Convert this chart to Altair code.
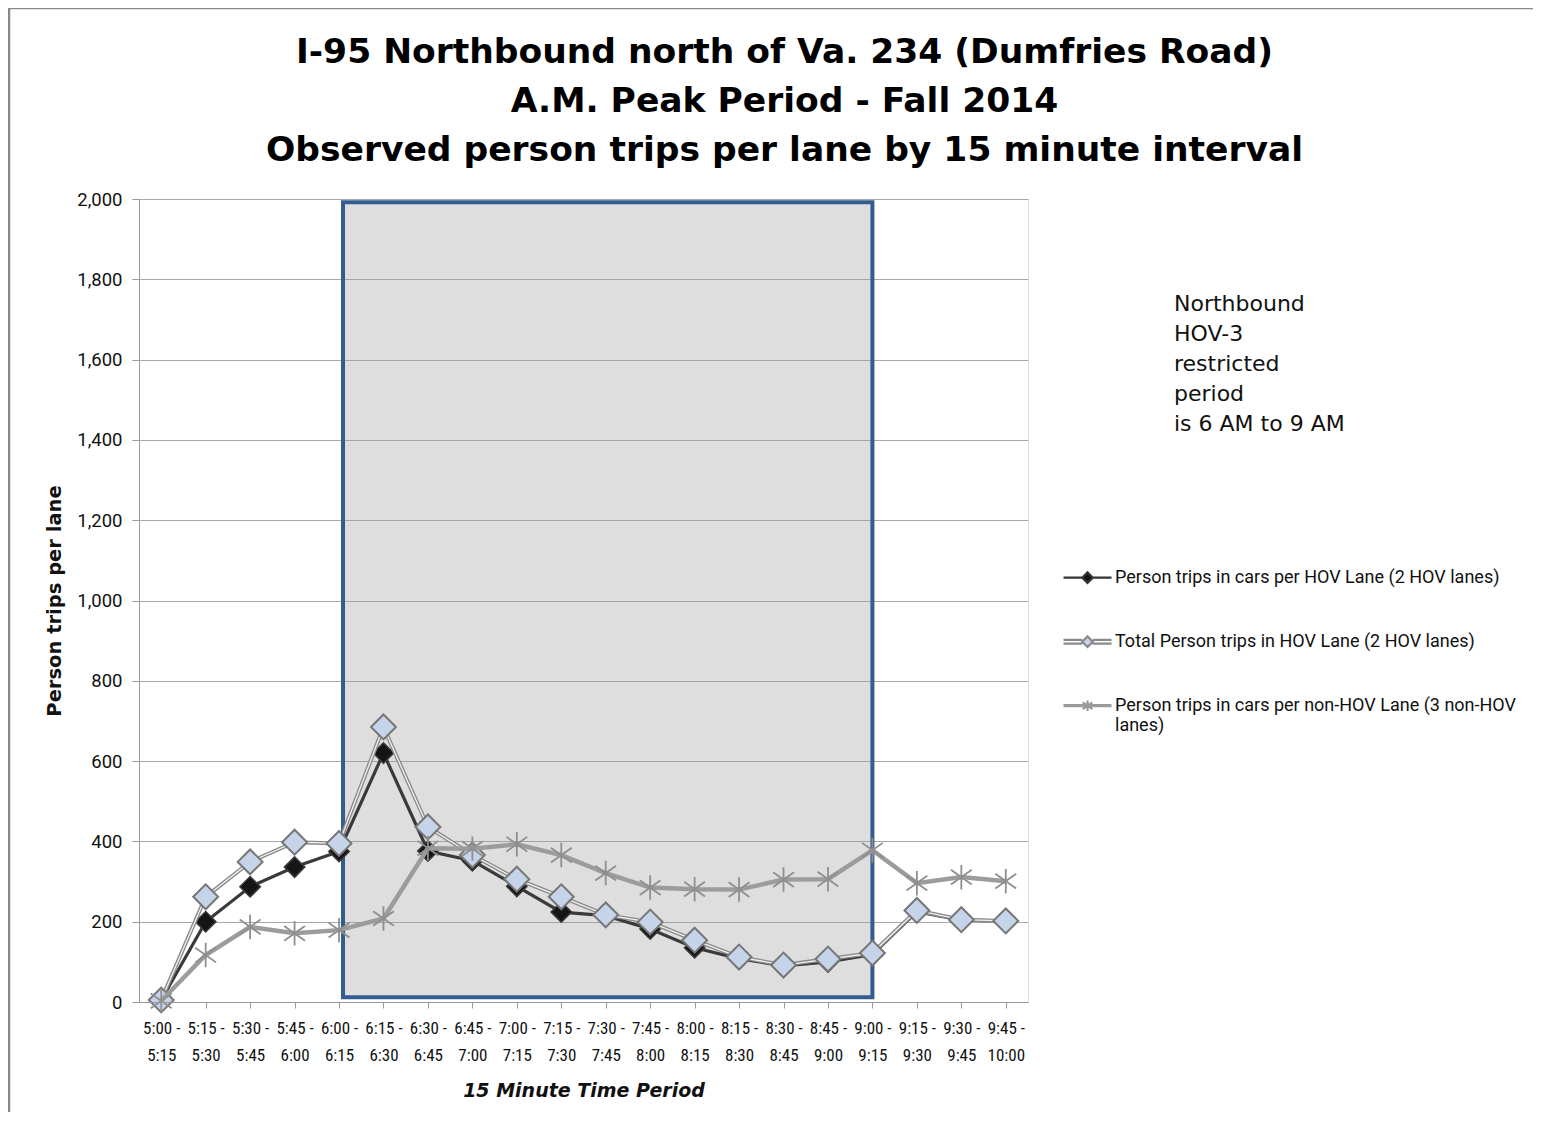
import altair as alt
import pandas as pd

# ---------------- data ----------------
time_periods = ["5:00 - 5:15", "5:15 - 5:30", "5:30 - 5:45", "5:45 - 6:00", "6:00 - 6:15",
                "6:15 - 6:30", "6:30 - 6:45", "6:45 - 7:00", "7:00 - 7:15", "7:15 - 7:30",
                "7:30 - 7:45", "7:45 - 8:00", "8:00 - 8:15", "8:15 - 8:30", "8:30 - 8:45",
                "8:45 - 9:00", "9:00 - 9:15", "9:15 - 9:30", "9:30 - 9:45", "9:45 - 10:00"]
hov_cars = [5, 200, 287, 336, 375, 620, 376, 352, 288, 224, 215, 182, 135, 108, 90, 100, 118, 225, 204, 202]
hov_total = [5, 262, 349, 398, 395, 685, 436, 366, 306, 262, 217, 199, 154, 112, 92, 107, 122, 228, 205, 202]
non_hov = [3, 117, 187, 171, 179, 208, 383, 382, 393, 366, 321, 285, 281, 280, 305, 306, 378, 296, 311, 301]

series_names = ["Person trips in cars per HOV Lane (2 HOV lanes)",
                "Total Person trips in HOV Lane (2 HOV lanes)",
                "Person trips in cars per non-HOV Lane (3 non-HOV lanes)"]
y_ticks = list(range(0, 2001, 200))
restricted_start = "6:00 - 6:15"
restricted_end = "9:00 - 9:15"
restricted_low = 12
restricted_high = 1992

title_lines = ["I-95 Northbound north of Va. 234 (Dumfries Road)",
               "A.M. Peak Period - Fall 2014",
               "Observed person trips per lane by 15 minute interval"]
note_lines = ["Northbound", "HOV-3", "restricted", "period", "is 6 AM to 9 AM"]

rows = []
for name, vals in zip(series_names, [hov_cars, hov_total, non_hov]):
    for t, v in zip(time_periods, vals):
        rows.append({"time": t, "value": v, "series": name})
df = pd.DataFrame(rows)
df_box = pd.DataFrame([{"start": restricted_start, "end": restricted_end,
                        "lo": restricted_low, "hi": restricted_high}])

# ---------------- styling ----------------
NARROW = "Liberation Sans Narrow, Roboto Condensed, DejaVu Sans Condensed, Roboto, sans-serif"
W, H = 889, 803

x_axis = alt.Axis(
    title="15 Minute Time Period", labelAngle=0,
    labelExpr="[split(datum.label, ' - ')[0] + ' -', split(datum.label, ' - ')[1]]",
    labelFont=NARROW, labelFontSize=17, labelColor="#111", labelBaseline="top",
    labelLineHeight=27, labelPadding=12, tickColor="#999", tickSize=6,
    domainColor="#999", grid=False,
    titleFont="DejaVu Sans, sans-serif", titleFontSize=19, titleFontWeight="bold",
    titleFontStyle="italic", titleColor="#111", titlePadding=18,
)
y_axis = alt.Axis(
    title="Person trips per lane", values=y_ticks, format=",.0f",
    labelFont="Roboto, sans-serif", labelFontSize=18.5, labelColor="#111", labelPadding=10,
    tickColor="#999", tickSize=7, domainColor="#999",
    grid=True, gridColor="#a8a8a8", gridWidth=1.2,
    titleFont="DejaVu Sans, sans-serif", titleFontSize=19.5, titleFontWeight=600,
    titleColor="#111", titlePadding=12,
)
x_scale = alt.Scale(type="point", domain=time_periods, padding=0.5)
y_scale = alt.Scale(domain=[0, 2000], nice=False)


def X(field):
    return alt.X(f"{field}:N", scale=x_scale, axis=x_axis)


def Y(field):
    return alt.Y(f"{field}:Q", scale=y_scale, axis=y_axis)


base = alt.Chart(df)

box = alt.Chart(df_box).mark_rect(
    fill="#9a9a9a", fillOpacity=0.33, stroke="#345d8f", strokeWidth=4, xOffset=4
).encode(x=X("start"), x2="end", y=Y("lo"), y2="hi")

ast_path = "M0,-1L0,1M-0.85,-0.6L0.85,0.6M-0.85,0.6L0.85,-0.6"

layers = [box]
s1 = base.transform_filter(alt.datum.series == series_names[0])
s2 = base.transform_filter(alt.datum.series == series_names[1])
s3 = base.transform_filter(alt.datum.series == series_names[2])

layers += [
    s1.mark_line(color="#3a3a3a", strokeWidth=3.2).encode(x=X("time"), y=Y("value")),
    s1.mark_point(shape="diamond", size=420, filled=True, fill="#151515", stroke="#3a3a3a",
                  strokeWidth=1.5, opacity=1).encode(x=X("time"), y=Y("value")),
    s2.mark_line(color="#8a8a8a", strokeWidth=4).encode(x=X("time"), y=Y("value")),
    s2.mark_line(color="#f2f2f2", strokeWidth=1.3).encode(x=X("time"), y=Y("value")),
    s2.mark_point(shape="diamond", size=620, filled=True, fill="#c6d4ea", stroke="#767676",
                  strokeWidth=2, opacity=1).encode(x=X("time"), y=Y("value")),
    s3.mark_line(color="#9c9c9c", strokeWidth=4.5).encode(x=X("time"), y=Y("value")),
    s3.mark_point(shape=ast_path, size=600, filled=False, stroke="#8f8f8f",
                  strokeWidth=1.8, opacity=1).encode(x=X("time"), y=Y("value")),
]

# legend (built from the series list; no marks drawn)
legend_paths = [
    "M-1,-0.2L-0.22,-0.2M0.22,-0.2L1,-0.2M-0.22,-0.2L0,-0.42L0.22,-0.2L0,0.02Z",
    "M-1,-0.28L-0.22,-0.28M-1,-0.12L-0.22,-0.12M0.22,-0.28L1,-0.28M0.22,-0.12L1,-0.12"
    "M-0.22,-0.2L0,-0.42L0.22,-0.2L0,0.02Z",
    "M-1,-0.22L1,-0.22M-1,-0.18L1,-0.18M0,-0.42L0,0.02M-0.2,-0.34L0.2,-0.06M-0.2,-0.06L0.2,-0.34",
]
legend = alt.Legend(
    title=None, orient="none", legendX=923, legendY=358, padding=0,
    symbolSize=2304, symbolStrokeWidth=2.2, rowPadding=33, labelOffset=2,
    labelFont="Roboto, sans-serif", labelFontSize=18, labelColor="#111", labelLimit=600,
    labelBaseline="alphabetic",
    labelExpr=f"datum.label == '{series_names[2]}' ? ['Person trips in cars per non-HOV Lane (3 non-HOV', 'lanes)'] : datum.label",
)
leg_layer = base.transform_filter("false").mark_point(filled=True, opacity=1, strokeWidth=2.2).encode(
    shape=alt.Shape("series:N", scale=alt.Scale(domain=series_names, range=legend_paths), legend=legend),
    stroke=alt.Stroke("series:N", scale=alt.Scale(domain=series_names, range=["#333333", "#8a8a8a", "#9a9a9a"]), legend=legend),
    fill=alt.Fill("series:N", scale=alt.Scale(domain=series_names, range=["#111111", "#c6d4ea", "transparent"]), legend=legend),
)
layers.append(leg_layer)

note = alt.Chart(pd.DataFrame({"k": [0]})).mark_text(
    text=note_lines, align="left", baseline="top", font="DejaVu Sans, sans-serif",
    fontSize=22, lineHeight=30, color="#111"
).encode(x=alt.value(1035), y=alt.value(95))
layers.append(note)

frame = alt.Chart(pd.DataFrame({"k": [0]}))
layers.append(frame.mark_rule(color="#888", strokeWidth=2.5).encode(
    x=alt.value(-130), y=alt.value(-191), y2=alt.value(1125 - 199)))
layers.append(frame.mark_rule(color="#888", strokeWidth=2.5).encode(
    x=alt.value(-131), x2=alt.value(1543 - 139), y=alt.value(-191)))

chart = alt.layer(*layers).properties(
    width=W, height=H,
    title=alt.TitleParams(
        text=title_lines, anchor="middle", dx=201, dy=192, fontSize=34.5, lineHeight=49,
        font="DejaVu Sans, sans-serif", fontWeight="bold", color="#000", offset=30,
    ),
    autosize=alt.AutoSizeParams(type="none"),
    padding={"left": 131, "top": 191, "right": 505, "bottom": 110},
).configure_view(stroke=None).configure(background="white")

chart.save("out.html", embed_options={"renderer": "svg", "actions": False})
